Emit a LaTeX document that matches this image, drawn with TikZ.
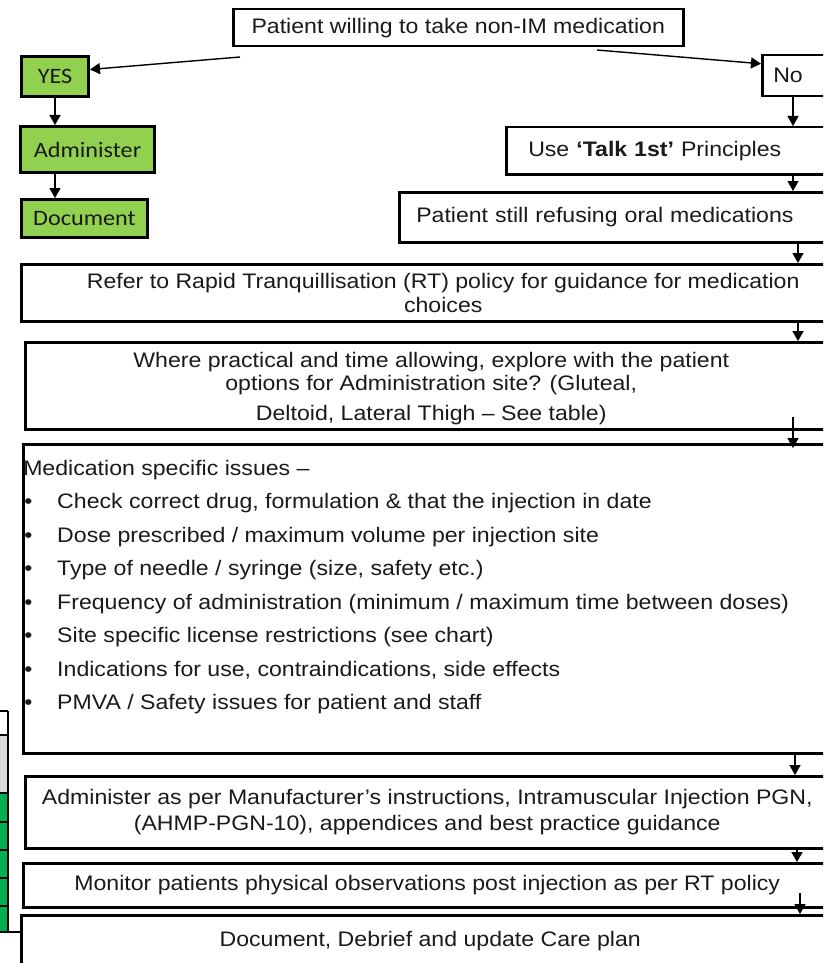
\documentclass[tikz,border=0pt]{standalone}
\usepackage{fontspec}
\setmainfont{Liberation Sans}
\newfontfamily\af[FakeStretch=1.1]{Liberation Sans}
\newfontfamily\cf[FakeStretch=1.1]{Carlito}
\usetikzlibrary{arrows.meta,calc}
\definecolor{boxgreen}{HTML}{92D050}
\definecolor{tabgreen}{HTML}{00B050}
\definecolor{tabgray}{HTML}{D9D9D9}
\definecolor{ink}{HTML}{1A1A1A}
\tikzset{
  flow/.style={draw=black, line width=2.5pt, inner sep=0pt, anchor=north west,
    align=center, text=ink, font=\af\fontsize{21}{24}\selectfont},
  greenbox/.style={flow, fill=boxgreen, line width=3pt, font=\cf\fontsize{22}{24}\selectfont},
  arr/.style={line width=1.4pt, -{Triangle[length=10pt,width=11pt]}},
  cell/.style={draw=black, line width=1.3pt},
}
\begin{document}
\begin{tikzpicture}[x=1pt,y=-1pt]
\useasboundingbox (0,0) rectangle (823,963);
\clip (0,0) rectangle (823,963);
\fill[white] (0,0) rectangle (823,963);

% partial table at left edge
\fill[tabgray] (-3,735) rectangle (8,793);
\fill[tabgreen] (-3,793) rectangle (8,932);
\foreach \yy in {711,735,793,822,850,878,906}{\draw[cell] (-3,\yy) -- (8,\yy);}
\draw[cell] (-3,932) -- (8,932);
\draw[cell] (8,711) -- (8,932);

% nodes
\node[flow, minimum width=450pt, minimum height=37pt] (top) at (232,8)
  {Patient willing to take non-IM medication};
\node[greenbox, minimum width=67pt, minimum height=40pt] (yes) at (20,55) {YES};
\node[greenbox, minimum width=134pt, minimum height=46pt] (adm) at (19,125) {Administer};
\node[greenbox, minimum width=126pt, minimum height=38pt] (doc) at (20,198) {Document};

\node[flow, align=left, inner xsep=11pt, text width=78pt, minimum height=41pt] (no) at (761,54) {No};
\node[flow, align=left, inner xsep=22pt, text width=306pt, minimum height=47pt] (talk) at (505,126)
  {Use \textbf{‘Talk 1st’} Principles};
\node[flow, align=left, inner xsep=17pt, text width=416pt, minimum height=50pt] (refuse) at (398,191)
  {\raisebox{3pt}{Patient still refusing oral medications}};
\node[flow, minimum width=844pt, minimum height=57pt] (refer) at (20,263)
  {Refer to Rapid Tranquillisation (RT) policy for guidance for medication\\choices};
\node[flow, minimum width=812pt, minimum height=87pt, font=\af\fontsize{21}{23.5}\selectfont] (where) at (24,341)
  {\rule{0pt}{20pt}Where practical and time allowing, explore with the patient\\options for Administration site? (Gluteal,\\[6pt]Deltoid, Lateral Thigh – See table)};
\node[flow, align=left, minimum width=830pt, minimum height=309pt] (med) at (22,443)
  {\parbox[c][309pt][t]{820pt}{\fontsize{21}{33.5}\selectfont\vspace*{16pt}%
   \hspace*{-5pt}Medication specific issues –\\
   \hspace*{-4pt}\makebox[33pt][l]{•}Check correct drug, formulation \& that the injection in date\\
   \hspace*{-4pt}\makebox[33pt][l]{•}Dose prescribed / maximum volume per injection site\\
   \hspace*{-4pt}\makebox[33pt][l]{•}Type of needle / syringe (size, safety etc.)\\
   \hspace*{-4pt}\makebox[33pt][l]{•}Frequency of administration (minimum / maximum time between doses)\\
   \hspace*{-4pt}\makebox[33pt][l]{•}Site specific license restrictions (see chart)\\
   \hspace*{-4pt}\makebox[33pt][l]{•}Indications for use, contraindications, side effects\\
   \hspace*{-4pt}\makebox[33pt][l]{•}PMVA / Safety issues for patient and staff}};
\node[flow, minimum width=804pt, minimum height=72pt, font=\af\fontsize{21}{26}\selectfont] (admper) at (24,775)
  {Administer as per Manufacturer’s instructions, Intramuscular Injection PGN,\\(AHMP-PGN-10), appendices and best practice guidance};
\node[flow, minimum width=808pt, minimum height=44pt] (mon) at (22,862)
  {Monitor patients physical observations post injection as per RT policy};
\node[flow, minimum width=818pt, minimum height=52pt] (debrief) at (20,914)
  {Document, Debrief and update Care plan};

% connectors
\coordinate (ay) at (240,57);
\coordinate (an) at (597,50);
\draw[arr] (ay) -- ([yshift=7pt]yes.east);
\draw[arr] (an) -- ([yshift=12pt]no.west);
\draw[arr] (yes.south) -- (yes.south |- adm.north);
\draw[arr] (yes.south |- adm.south) -- (yes.south |- doc.north);

\coordinate (v1) at (793,0);
\coordinate (v2) at (798,0);
\coordinate (v3) at (793,417);
\coordinate (v4) at (795,0);
\coordinate (v5) at (797,0);
\coordinate (v6) at (800,893);
\draw[arr] (no.south -| v1) -- (talk.north -| v1);
\draw[arr] (talk.south -| v1) -- (refuse.north -| v1);
\draw[arr] (refuse.south -| v2) -- (refer.north -| v2);
\draw[arr] (refer.south -| v2) -- (where.north -| v2);
\draw[arr] (v3) -- ($(med.north -| v3)+(0,5)$);
\draw[arr] (med.south -| v4) -- (admper.north -| v4);
\draw[arr] (admper.south -| v5) -- (mon.north -| v5);
\draw[arr] (v6) -- (debrief.north -| v6);
\draw[cell] (8,932) -- (debrief.west |- 0,932);
\end{tikzpicture}
\end{document}
